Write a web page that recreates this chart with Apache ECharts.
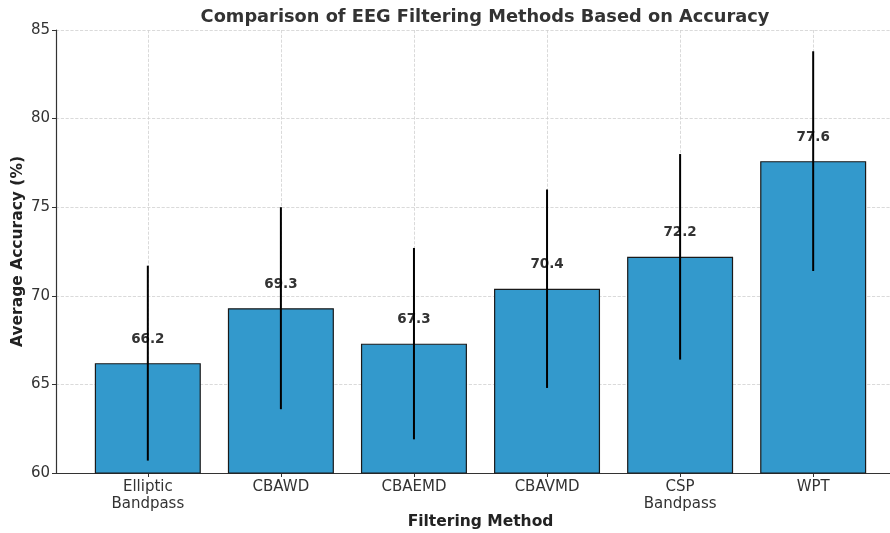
<!DOCTYPE html>
<html>
<head>
<meta charset="utf-8">
<script src="https://cdn.jsdelivr.net/npm/echarts@6/dist/echarts.min.js"></script>
<style>
  html, body { margin: 0; padding: 0; background: #fff; }
  #chart { width: 890px; height: 533px; }
</style>
</head>
<body>
<div id="chart"></div>
<script>
const categories = ['Elliptic\nBandpass', 'CBAWD', 'CBAEMD', 'CBAVMD', 'CSP\nBandpass', 'WPT']
const accuracy = [66.2, 69.3, 67.3, 70.4, 72.2, 77.6]
const errors = [5.5, 5.7, 5.4, 5.6, 5.8, 6.2]
const yTicks = [60, 65, 70, 75, 80, 85]

const font = 'DejaVu Sans'
const textColor = '#333'
const positions = categories.map((c, i) => i)

const chart = echarts.init(document.getElementById('chart'))

const option = {
  animation: false,
  title: {
    text: 'Comparison of EEG Filtering Methods Based on Accuracy',
    left: 480,
    top: 3,
    textAlign: 'center',
    textStyle: { fontFamily: font, fontSize: 17.8, fontWeight: 'bold', color: textColor }
  },
  grid: { left: 56, top: 30, bottom: 60, width: 849, outerBoundsMode: 'none', containLabel: false },
  xAxis: {
    type: 'value',
    min: -0.69,
    max: 5.69,
    name: 'Filtering Method',
    nameLocation: 'middle',
    nameGap: 41,
    nameMoveOverlap: false,
    nameTextStyle: { fontFamily: font, fontSize: 15.5, fontWeight: 'bold', color: '#222' },
    axisLine: { show: true, onZero: false, lineStyle: { color: '#333', width: 1.2 } },
    axisTick: { show: true, length: 4, customValues: positions, lineStyle: { color: '#333' } },
    axisLabel: {
      customValues: positions,
      margin: 6,
      fontFamily: font,
      fontSize: 15,
      lineHeight: 17,
      color: textColor,
      formatter: v => categories[Math.round(v)]
    },
    splitLine: { show: true, lineStyle: { color: '#d0d0d0', type: 'dashed', width: 0.8 } }
  },
  yAxis: {
    type: 'value',
    min: yTicks[0],
    max: yTicks[yTicks.length - 1],
    interval: 5,
    name: 'Average Accuracy (%)',
    nameLocation: 'middle',
    nameGap: 30,
    nameMoveOverlap: false,
    nameTextStyle: { fontFamily: font, fontSize: 15.5, fontWeight: 'bold', color: '#222' },
    axisLine: { show: true, onZero: false, lineStyle: { color: '#333', width: 1.2 } },
    axisTick: { show: true, length: 4, lineStyle: { color: '#333' } },
    axisLabel: { fontFamily: font, fontSize: 15, color: textColor, margin: 6 },
    splitLine: { show: true, lineStyle: { color: '#d0d0d0', type: 'dashed', width: 0.8 } }
  },
  series: [
    {
      type: 'bar',
      barWidth: 106,
      data: accuracy.map((v, i) => [i, v]),
      itemStyle: { color: '#3399cc', borderColor: '#1a1a1a', borderWidth: 1.2 },
      label: {
        show: true,
        position: 'top',
        distance: 17,
        fontFamily: font,
        fontSize: 13.5,
        fontWeight: 'bold',
        color: textColor,
        formatter: p => p.value[1].toFixed(1)
      }
    },
    {
      type: 'custom',
      data: accuracy.map((v, i) => [i, v - errors[i], v + errors[i]]),
      encode: { x: 0, y: [1, 2] },
      z: 5,
      renderItem: (params, api) => {
        const lo = api.coord([api.value(0), api.value(1)])
        const hi = api.coord([api.value(0), api.value(2)])
        return {
          type: 'line',
          shape: { x1: lo[0], y1: lo[1], x2: hi[0], y2: hi[1] },
          style: { stroke: '#000', lineWidth: 2 }
        }
      }
    }
  ]
}

chart.setOption(option)
</script>
</body>
</html>
